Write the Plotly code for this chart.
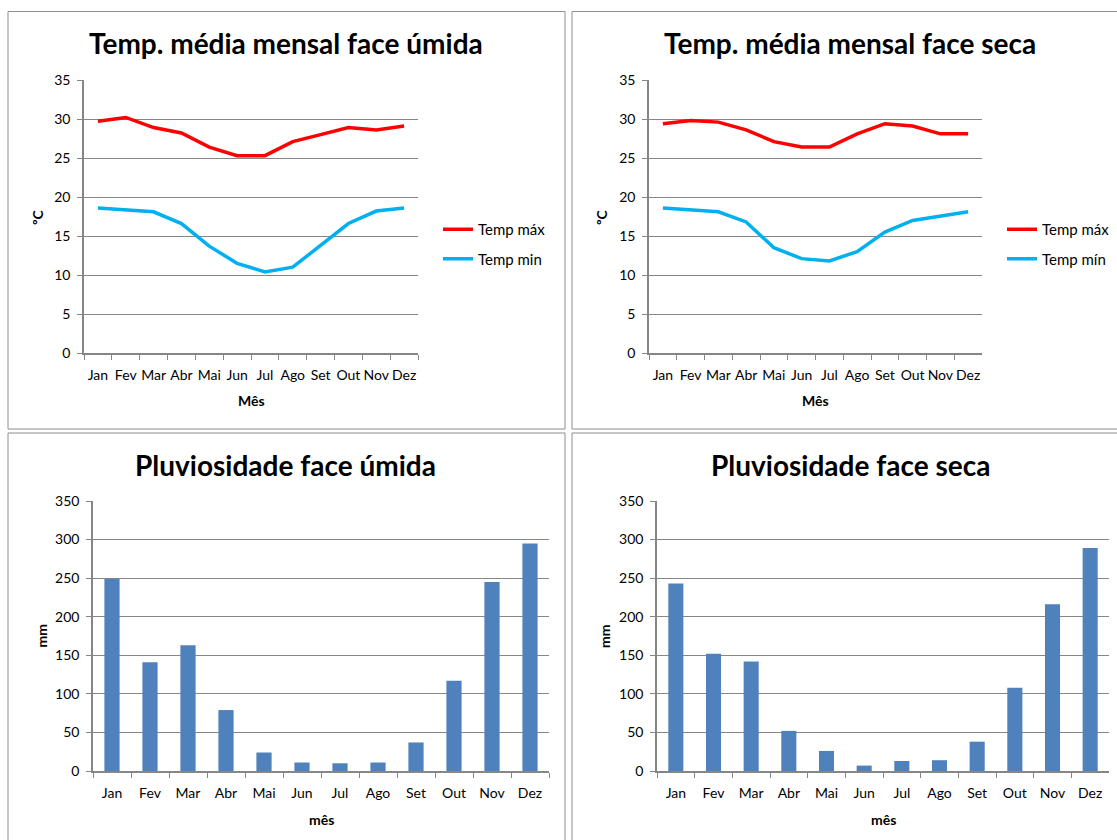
import plotly.graph_objects as go

# Monthly climate data
meses = ["Jan", "Fev", "Mar", "Abr", "Mai", "Jun", "Jul", "Ago", "Set", "Out", "Nov", "Dez"]

umida_tmax = [29.7, 30.2, 28.9, 28.2, 26.4, 25.3, 25.3, 27.1, 28.0, 28.9, 28.6, 29.1]
umida_tmin = [18.6, 18.4, 18.1, 16.6, 13.7, 11.5, 10.4, 11.0, 13.8, 16.6, 18.2, 18.6]

seca_tmax = [29.4, 29.8, 29.6, 28.6, 27.1, 26.4, 26.4, 28.1, 29.4, 29.1, 28.1, 28.1]
seca_tmin = [18.6, 18.4, 18.1, 16.8, 13.5, 12.1, 11.8, 13.0, 15.5, 17.0, 17.6, 18.1]

umida_chuva = [249, 141, 163, 79, 24, 11, 10, 11, 37, 117, 245, 295]
seca_chuva = [243, 152, 142, 52, 26, 7, 13, 14, 38, 108, 216, 289]

temp_ticks = [0, 5, 10, 15, 20, 25, 30, 35]
chuva_ticks = [0, 50, 100, 150, 200, 250, 300, 350]

W, H = 1117, 840
FONT = "Lato"
GRID = "#868686"
RED = "#FF0000"
CYAN = "#00B0F0"
BAR = "#4F81BD"


def px(x):
    return x / W


def py(y):
    return 1 - y / H


fig = go.Figure()

# Temperature lines
fig.add_trace(go.Scatter(x=meses, y=umida_tmax, mode="lines", name="Temp máx",
                         line=dict(color=RED, width=3.5), xaxis="x", yaxis="y",
                         legend="legend", legendgroup="a"))
fig.add_trace(go.Scatter(x=meses, y=umida_tmin, mode="lines", name="Temp min",
                         line=dict(color=CYAN, width=3.5), xaxis="x", yaxis="y",
                         legend="legend", legendgroup="b"))
fig.add_trace(go.Scatter(x=meses, y=seca_tmax, mode="lines", name="Temp máx",
                         line=dict(color=RED, width=3.5), xaxis="x2", yaxis="y2",
                         legend="legend2", legendgroup="c"))
fig.add_trace(go.Scatter(x=meses, y=seca_tmin, mode="lines", name="Temp mín",
                         line=dict(color=CYAN, width=3.5), xaxis="x2", yaxis="y2",
                         legend="legend2", legendgroup="d"))

# Rainfall bars
fig.add_trace(go.Bar(x=meses, y=umida_chuva, marker=dict(color=BAR, line=dict(width=0)),
                     xaxis="x3", yaxis="y3", showlegend=False))
fig.add_trace(go.Bar(x=meses, y=seca_chuva, marker=dict(color=BAR, line=dict(width=0)),
                     xaxis="x4", yaxis="y4", showlegend=False))

tickfont = dict(family=FONT, size=14, color="#000000")


def xaxis(x0, x1, y_anchor):
    return dict(domain=[px(x0), px(x1)], anchor=y_anchor, type="category",
                range=[-0.5, len(meses) - 0.5],
                automargin=False, tickangle=0,
                showgrid=False, showline=True, linecolor=GRID, linewidth=1.5,
                ticks="outside", tickson="boundaries", ticklen=5, tickcolor=GRID,
                tickwidth=1, tickfont=tickfont, ticklabelstandoff=8, fixedrange=True)


def yaxis(y_top, y_bot, x_anchor, rng, vals):
    return dict(domain=[py(y_bot), py(y_top)], anchor=x_anchor, range=rng,
                automargin=False,
                tickvals=vals, showgrid=True, gridcolor=GRID, gridwidth=1,
                showline=True, linecolor=GRID, linewidth=1.5, zeroline=False,
                ticks="outside", ticklen=5, tickcolor=GRID, tickwidth=1,
                tickfont=tickfont, ticklabelstandoff=4, fixedrange=True)


fig.update_layout(
    width=W, height=H,
    margin=dict(l=0, r=0, t=0, b=0, autoexpand=False),
    paper_bgcolor="white", plot_bgcolor="white",
    font=dict(family=FONT, color="#000000"),
    bargap=0.6,
    xaxis=xaxis(84, 418, "y"),
    yaxis=yaxis(80, 353, "x", [0, 35], temp_ticks),
    xaxis2=xaxis(649, 982, "y2"),
    yaxis2=yaxis(80, 353, "x2", [0, 35], temp_ticks),
    xaxis3=xaxis(93, 549, "y3"),
    yaxis3=yaxis(501, 771, "x3", [0, 350], chuva_ticks),
    xaxis4=xaxis(657, 1109, "y4"),
    yaxis4=yaxis(501, 771, "x4", [0, 350], chuva_ticks),
    legend=dict(x=px(438), y=py(213), xanchor="left", yanchor="top",
                bgcolor="rgba(0,0,0,0)", font=dict(family=FONT, size=15),
                traceorder="grouped", tracegroupgap=7, itemclick=False),
    legend2=dict(x=px(1002), y=py(213), xanchor="left", yanchor="top",
                 bgcolor="rgba(0,0,0,0)", font=dict(family=FONT, size=15),
                 traceorder="grouped", tracegroupgap=7, itemclick=False),
)

# Panel frames
for x0, y0, x1, y1 in [(8, 11.5, 565, 429), (572, 11.5, 1130, 429),
                       (8, 433, 565, 850), (572, 433, 1130, 850)]:
    fig.add_shape(type="rect", xref="paper", yref="paper",
                  x0=px(x0), x1=px(x1), y0=py(y1), y1=py(y0),
                  line=dict(color="#8E8E8E", width=1), fillcolor="rgba(0,0,0,0)",
                  layer="below")

# Chart titles and axis titles
texts = [
    ("Temp. média mensal face úmida", 285.5, 43, 28, 0),
    ("Temp. média mensal face seca", 850, 43, 28, 0),
    ("Pluviosidade face úmida", 285.5, 464.5, 28, 0),
    ("Pluviosidade face seca", 850, 464.5, 28, 0),
    ("ºC", 38, 217, 14, -90),
    ("ºC", 602, 217, 14, -90),
    ("Mês", 251, 400, 14, 0),
    ("Mês", 815.5, 400, 14, 0),
    ("mm", 40.5, 636, 14, -90),
    ("mm", 604, 636, 14, -90),
    ("mês", 321, 819, 14, 0),
    ("mês", 883.5, 819, 14, 0),
]
for t, x, y, size, ang in texts:
    fig.add_annotation(text=f"<b>{t}</b>", x=px(x), y=py(y),
                       xref="paper", yref="paper", showarrow=False,
                       xanchor="center", yanchor="middle", textangle=ang,
                       font=dict(family=FONT, size=size, color="#000000"))

fig.write_html("out.html")
